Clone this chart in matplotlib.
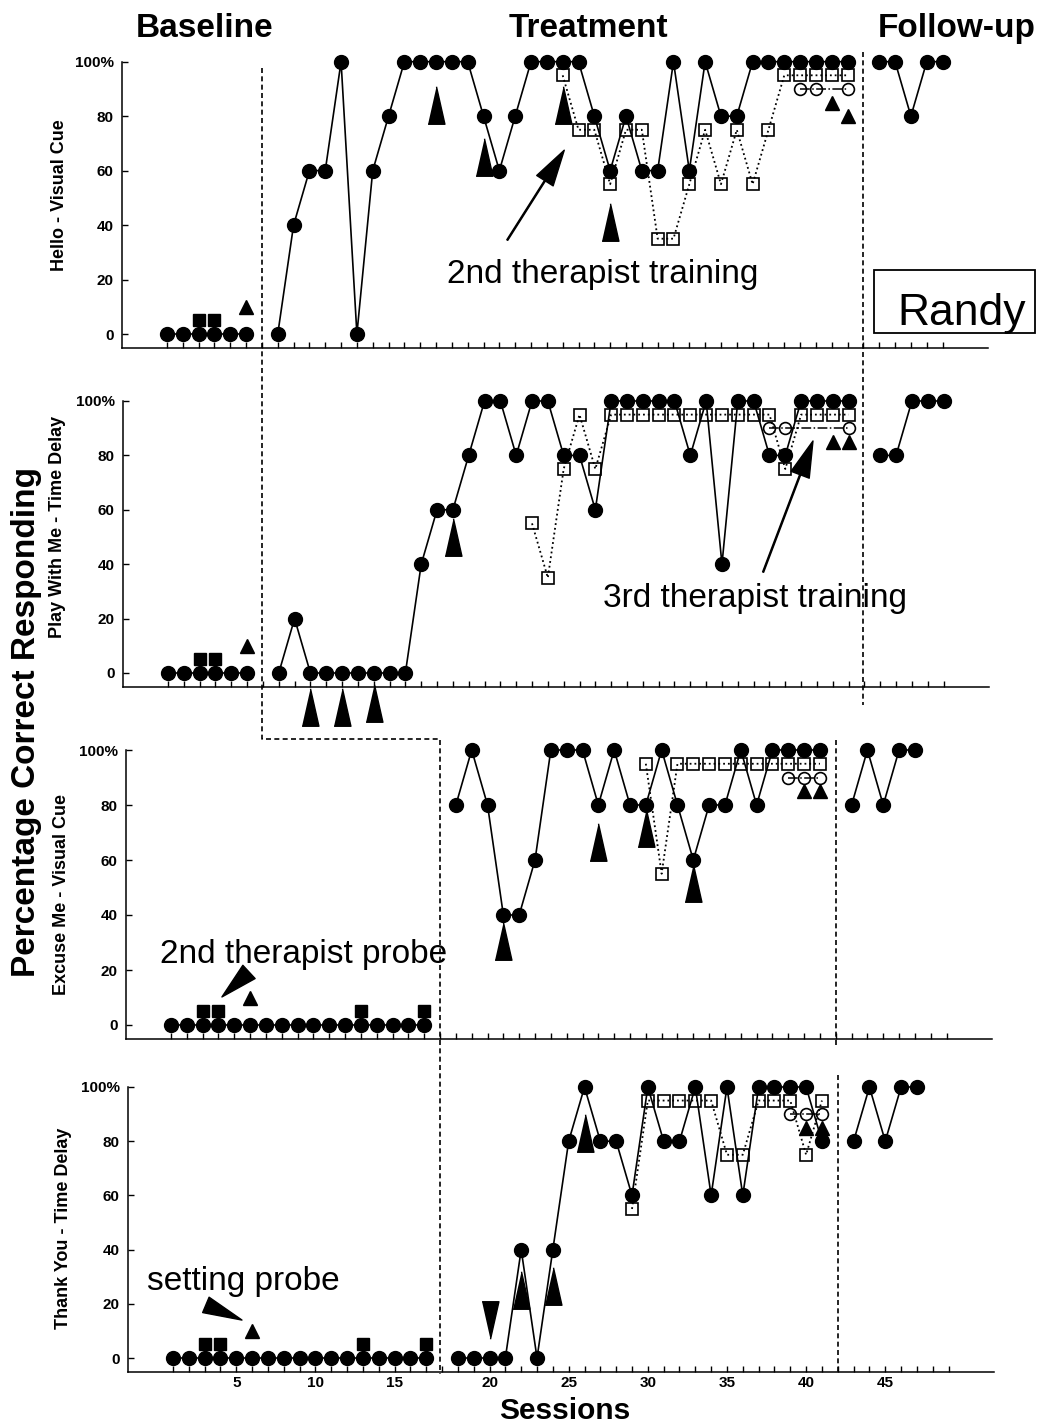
import matplotlib
matplotlib.use("Agg")
import matplotlib.pyplot as plt
import numpy as np
from matplotlib.lines import Line2D
from matplotlib.patches import Rectangle

plt.rcParams['font.family'] = ['Liberation Sans', 'DejaVu Sans']

# ---- Hello - Visual Cue (percent correct per session) ----
hello_base = [0, 0, 0, 0, 0, 0]
hello_treat = [0, 40, 60, 60, 100, 0, 60, 80, 100, 100, 100, 100, 100, 80, 60, 80,
               100, 100, 100, 100, 80, 60, 80, 60, 60, 100, 60, 100, 80, 80, 100, 100,
               100, 100, 100, 100, 100]
hello_follow = [100, 100, 80, 100, 100]
hello_probe_sq_s = [3, 4]
hello_probe_sq = [5, 5]
hello_probe_tri_s = [6]
hello_probe_tri = [10]
hello_t2_s = list(range(25, 44))
hello_t2 = [95, 75, 75, 55, 75, 75, 35, 35, 55, 75, 55, 75, 55, 75, 95, 95, 95, 95, 95]
hello_t3_s = [40, 41, 43]
hello_t3 = [90, 90, 90]
hello_set_s = [42, 43]
hello_set = [85, 80]
hello_big_s = [17, 20, 25, 28]
hello_big = [84, 65, 84, 41]

# ---- Play With Me - Time Delay ----
play_base = [0, 0, 0, 0, 0, 0]
play_treat = [0, 20, 0, 0, 0, 0, 0, 0, 0, 40, 60, 60, 80, 100, 100, 80, 100, 100,
              80, 80, 60, 100, 100, 100, 100, 100, 80, 100, 40, 100, 100, 80, 80,
              100, 100, 100, 100]
play_follow = [80, 80, 100, 100, 100]
play_probe_sq_s = [3, 4]
play_probe_sq = [5, 5]
play_probe_tri_s = [6]
play_probe_tri = [10]
play_t2_s = list(range(23, 44))
play_t2 = [55, 35, 75, 95, 75, 95, 95, 95, 95, 95, 95, 95, 95, 95, 95, 95, 75,
           95, 95, 95, 95]
play_t3_s = [38, 39, 43]
play_t3 = [90, 90, 90]
play_set_s = [42, 43]
play_set = [85, 85]
play_big_s = [18, 9, 11, 13]
play_big = [50, -12.5, -12.5, -11]

# ---- Excuse Me - Visual Cue ----
excuse_base = [0] * 17
excuse_treat = [80, 100, 80, 40, 40, 60, 100, 100, 100, 80, 100, 80, 80, 100, 80,
                60, 80, 80, 100, 80, 100, 100, 100, 100]
excuse_follow = [80, 100, 80, 100, 100]
excuse_probe_sq_s = [3, 4, 13, 17]
excuse_probe_sq = [5, 5, 5, 5]
excuse_probe_tri_s = [6]
excuse_probe_tri = [10]
excuse_t2_s = list(range(30, 42))
excuse_t2 = [95, 55, 95, 95, 95, 95, 95, 95, 95, 95, 95, 95]
excuse_t3_s = [39, 40, 41]
excuse_t3 = [90, 90, 90]
excuse_set_s = [40, 41]
excuse_set = [85, 85]
excuse_big_s = [21, 27, 30, 33]
excuse_big = [30.5, 66.5, 71.5, 51.5]

# ---- Thank You - Time Delay ----
thank_base = [0] * 17
thank_treat = [0, 0, 0, 0, 40, 0, 40, 80, 100, 80, 80, 60, 100, 80, 80, 100, 60,
               100, 60, 100, 100, 100, 100, 80]
thank_follow = [80, 100, 80, 100, 100]
thank_probe_sq_s = [3, 4, 13, 17]
thank_probe_sq = [5, 5, 5, 5]
thank_probe_tri_s = [6]
thank_probe_tri = [10]
thank_t2_s = list(range(29, 42))
thank_t2 = [55, 95, 95, 95, 95, 95, 75, 75, 95, 95, 95, 75, 95]
thank_t3_s = [39, 40, 41]
thank_t3 = [90, 90, 90]
thank_set_s = [40, 41]
thank_set = [85, 85]
thank_big_s = [22, 24, 26]
thank_big = [25, 26.5, 83]
thank_down_s = [20]
thank_down = [14]

tick_sessions = [5, 10, 15, 20, 25, 30, 35, 40, 45]

BIG_UP = [(-0.45, -1), (0.45, -1), (0, 1)]
BIG_DOWN = [(-0.45, 1), (0.45, 1), (0, -1)]


def to_slot(sessions, n_base, n_treat):
    """Sessions -> x position, leaving one empty slot at each phase change."""
    s = np.asarray(sessions, dtype=float)
    return s + (s > n_base) + (s > n_base + n_treat)


def draw_panel(ax, p):
    nb, nt, nf = len(p['base']), len(p['treat']), len(p['follow'])
    slot = lambda s: to_slot(s, nb, nt)
    kw = dict(clip_on=False)

    # large training triangles sit behind the data
    ax.plot(slot(p['big_s']), p['big'], ls='none', marker=BIG_UP, ms=27,
            color='k', zorder=2, **kw)
    if 'down_s' in p:
        ax.plot(slot(p['down_s']), p['down'], ls='none', marker=BIG_DOWN, ms=27,
                color='k', zorder=2, **kw)

    # first therapist, one line per phase
    start = 1
    for vals in (p['base'], p['treat'], p['follow']):
        s = np.arange(start, start + len(vals))
        ax.plot(slot(s), vals, '-', color='k', lw=1.2, marker='o', ms=10, zorder=4, **kw)
        start += len(vals)

    # baseline probes
    ax.plot(slot(p['probe_sq_s']), p['probe_sq'], ls='none', marker='s', ms=8.5,
            color='k', zorder=4, **kw)
    ax.plot(slot(p['probe_tri_s']), p['probe_tri'], ls='none', marker='^', ms=10,
            color='k', zorder=4, **kw)

    # 2nd / 3rd therapist and setting probes
    ax.plot(slot(p['t2_s']), p['t2'], ls=':', color='k', lw=1.3, marker='s', ms=8,
            mfc='none', mec='k', mew=1.2, zorder=5, **kw)
    ax.plot(slot(p['t3_s']), p['t3'], ls='-.', color='k', lw=1.1, marker='o', ms=8.5,
            mfc='none', mec='k', mew=1.2, zorder=5, **kw)
    ax.plot(slot(p['set_s']), p['set'], ls='none', marker='^', ms=10, color='k',
            zorder=5, **kw)

    ax.set_xlim(-1.84, 52.87)
    ax.set_ylim(-5, 100)
    ax.patch.set_visible(False)
    for side in ('top', 'right'):
        ax.spines[side].set_visible(False)
    ax.spines['left'].set_bounds(-5, 100)
    ax.spines['left'].set_linewidth(1.1)
    ax.spines['bottom'].set_linewidth(1.1)
    ax.set_yticks([0, 20, 40, 60, 80, 100])
    ax.set_yticklabels(['0', '20', '40', '60', '80', '100%'])
    ax.set_xticks(np.arange(1, 51))
    ax.tick_params(axis='both', which='both', direction='in', length=4, width=1)
    ax.tick_params(axis='y', pad=6, labelsize=11)
    ax.tick_params(axis='x', labelbottom=False)
    for lab in ax.get_yticklabels():
        lab.set_fontweight('bold')
    return nb, nt


def main():
    W, H = 1040, 1425
    fig = plt.figure(figsize=(W / 100, H / 100), dpi=100)

    panels = [
        dict(label='Hello - Visual Cue', base=hello_base, treat=hello_treat, follow=hello_follow,
             probe_sq_s=hello_probe_sq_s, probe_sq=hello_probe_sq,
             probe_tri_s=hello_probe_tri_s, probe_tri=hello_probe_tri,
             t2_s=hello_t2_s, t2=hello_t2, t3_s=hello_t3_s, t3=hello_t3,
             set_s=hello_set_s, set=hello_set, big_s=hello_big_s, big=hello_big),
        dict(label='Play With Me - Time Delay', base=play_base, treat=play_treat, follow=play_follow,
             probe_sq_s=play_probe_sq_s, probe_sq=play_probe_sq,
             probe_tri_s=play_probe_tri_s, probe_tri=play_probe_tri,
             t2_s=play_t2_s, t2=play_t2, t3_s=play_t3_s, t3=play_t3,
             set_s=play_set_s, set=play_set, big_s=play_big_s, big=play_big),
        dict(label='Excuse Me - Visual Cue', base=excuse_base, treat=excuse_treat, follow=excuse_follow,
             probe_sq_s=excuse_probe_sq_s, probe_sq=excuse_probe_sq,
             probe_tri_s=excuse_probe_tri_s, probe_tri=excuse_probe_tri,
             t2_s=excuse_t2_s, t2=excuse_t2, t3_s=excuse_t3_s, t3=excuse_t3,
             set_s=excuse_set_s, set=excuse_set, big_s=excuse_big_s, big=excuse_big),
        dict(label='Thank You - Time Delay', base=thank_base, treat=thank_treat, follow=thank_follow,
             probe_sq_s=thank_probe_sq_s, probe_sq=thank_probe_sq,
             probe_tri_s=thank_probe_tri_s, probe_tri=thank_probe_tri,
             t2_s=thank_t2_s, t2=thank_t2, t3_s=thank_t3_s, t3=thank_t3,
             set_s=thank_set_s, set=thank_set, big_s=thank_big_s, big=thank_big,
             down_s=thank_down_s, down=thank_down),
    ]

    # left edge, y of 100%, y of 0% (pixels from top); label x, label y
    geom = [(122, 61.7, 334, 60, 195), (123, 401, 673, 58, 527),
            (126, 750, 1025, 62, 895), (128, 1087, 1358, 64, 1228)]

    axes, phases = [], []
    for p, (left, y100, y0, lx, ly) in zip(panels, geom):
        ppu = (y0 - y100) / 100
        bottom_px = y0 + 5 * ppu
        ax = fig.add_axes([left / W, 1 - bottom_px / H, 866 / W, 105 * ppu / H])
        phases.append(draw_panel(ax, p))
        axes.append(ax)
        fig.text(lx / W, 1 - ly / H, p['label'], rotation=90, ha='center', va='center',
                 fontsize=13, fontweight='bold')
    ax1, ax2, ax3, ax4 = axes

    # bottom axis labels (numbering skips the baseline gap only)
    ax4.set_xticks(np.arange(1, 51), minor=True)
    ax4.set_xticks([s + (s > len(thank_base)) for s in tick_sessions])
    ax4.set_xticklabels([str(s) for s in tick_sessions])
    ax4.tick_params(axis='x', which='both', direction='in', length=4, labelbottom=True,
                    labelsize=11, pad=3)
    for lab in ax4.get_xticklabels():
        lab.set_fontweight('bold')

    # phase change lines, drawn across panels in figure space
    def fx(ax, slot):
        return ax.transData.transform((slot, 0))[0] / W

    def fy(px):
        return 1 - px / H

    dash = dict(color='k', lw=1.2, ls=(0, (3, 2)), transform=fig.transFigure)
    xb1 = fx(ax1, phases[0][0] + 1)
    xb3 = fx(ax3, phases[2][0] + 1)
    fig.add_artist(Line2D([xb1, xb1, xb3, xb3], [fy(68), fy(739), fy(739), fy(1374)], **dash))
    xf1 = fx(ax1, sum(phases[0]) + 2)
    xf3 = fx(ax3, sum(phases[2]) + 2)
    xf4 = fx(ax4, sum(phases[3]) + 2)
    fig.add_artist(Line2D([xf1, xf1], [fy(52), fy(705)], **dash))
    fig.add_artist(Line2D([xf3, xf3], [fy(740), fy(1047)], **dash))
    fig.add_artist(Line2D([xf4, xf4], [fy(1075), fy(1374)], **dash))

    # annotations
    arrow = dict(facecolor='k', edgecolor='k', width=0.8, headwidth=14, headlength=26, shrink=0)
    ax1.annotate('', xy=(26.1, 67.5), xytext=(22.5, 34.5), arrowprops=arrow,
                 annotation_clip=False)
    ax1.text(28.5, 18.7, '2nd therapist training', ha='center', va='baseline', fontsize=24)
    ax1.add_patch(Rectangle((45.66, 0.4), 10.17, 23.1, fill=False, lw=1.3, clip_on=False))
    ax1.text(51.2, 3.3, 'Randy', ha='center', va='baseline', fontsize=32, clip_on=False)

    ax2.annotate('', xy=(41.75, 85.3), xytext=(38.6, 37.1), arrowprops=arrow,
                 annotation_clip=False)
    ax2.text(38.1, 24.4, '3rd therapist training', ha='center', va='baseline', fontsize=24)

    ax3.annotate('', xy=(4.22, 10.2), xytext=(5.93, 19.3), annotation_clip=False,
                 arrowprops=dict(arrowstyle='wedge,tail_width=0.65', color='k',
                                 mutation_scale=20, shrinkA=0, shrinkB=0))
    ax3.text(9.4, 22.5, '2nd therapist probe', ha='center', va='baseline', fontsize=24)

    ax4.annotate('', xy=(5.36, 14), xytext=(3.08, 19.6), annotation_clip=False,
                 arrowprops=dict(arrowstyle='wedge,tail_width=0.6', color='k',
                                 mutation_scale=20, shrinkA=0, shrinkB=0))
    ax4.text(5.42, 25, 'setting probe', ha='center', va='baseline', fontsize=24)

    # phase titles and axis titles
    head = dict(ha='center', va='baseline', fontsize=24, fontweight='bold')
    fig.text(205 / W, fy(37), 'Baseline', **head)
    fig.text(588 / W, fy(37), 'Treatment', **head)
    fig.text(957 / W, fy(37), 'Follow-up', **head)
    fig.text(27 / W, fy(722), 'Percentage Correct Responding', rotation=90,
             ha='center', va='center', fontsize=24, fontweight='bold')
    fig.text(565 / W, fy(1425), 'Sessions', ha='center', va='bottom',
             fontsize=21.5, fontweight='bold')

    fig.savefig('out.png', dpi=100)


if __name__ == "__main__":
    main()
